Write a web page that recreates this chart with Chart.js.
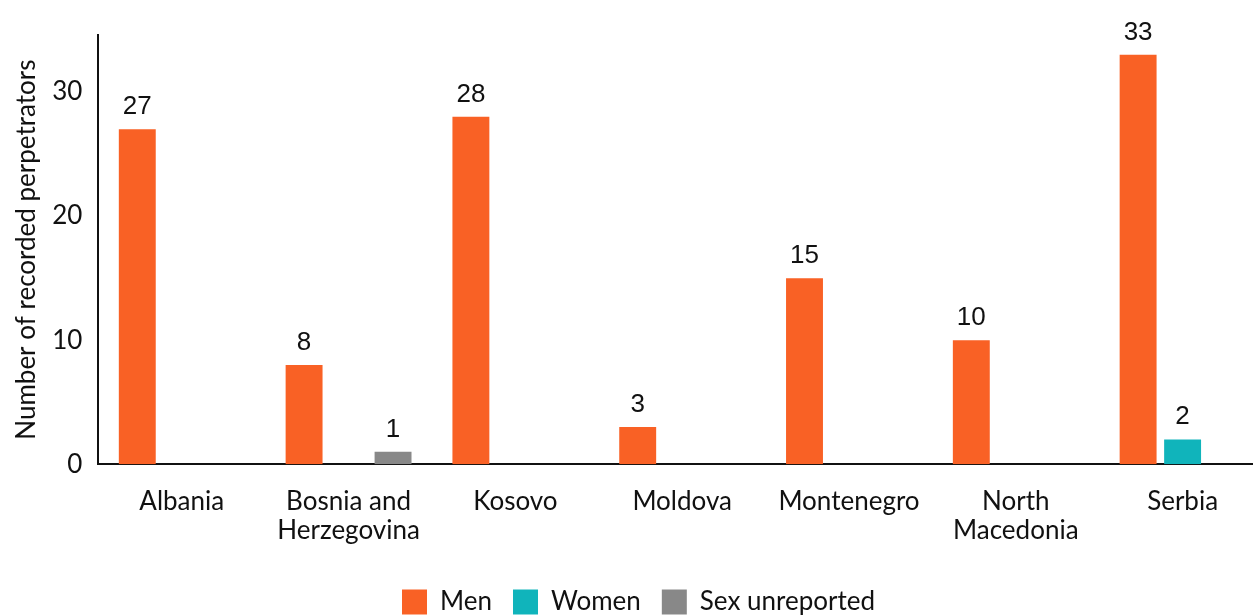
<!DOCTYPE html>
<html>
<head>
<meta charset="utf-8">
<script src="https://cdn.jsdelivr.net/npm/chart.js@4.4.1/dist/chart.umd.min.js"></script>
<style>
  html, body { margin: 0; padding: 0; background: #fff; overflow: hidden; }
  #wrap { width: 1253px; height: 616px; overflow: hidden; }
</style>
</head>
<body>
<div id="wrap"><canvas id="c" width="1270" height="625"></canvas></div>
<script>
const categories = ["Albania", ["Bosnia and", "Herzegovina"], "Kosovo", "Moldova", "Montenegro", ["North", "Macedonia"], "Serbia"];
const men = [27, 8, 28, 3, 15, 10, 33];
const women = [0, 0, 0, 0, 0, 0, 2];
const unreported = [0, 1, 0, 0, 0, 0, 0];
const seriesNames = ["Men", "Women", "Sex unreported"];
const seriesColors = ["#F96125", "#10B4BB", "#888888"];
const yTicks = [0, 10, 20, 30];
const yTitle = "Number of recorded perpetrators";

const valueLabels = {
  id: 'valueLabels',
  afterDatasetsDraw(chart) {
    const ctx = chart.ctx;
    ctx.save();
    ctx.font = '26px "Liberation Sans", Arial, sans-serif';
    ctx.fillStyle = '#111';
    ctx.textAlign = 'center';
    ctx.textBaseline = 'alphabetic';
    chart.data.datasets.forEach((ds, i) => {
      const meta = chart.getDatasetMeta(i);
      meta.data.forEach((bar, j) => {
        const v = ds.data[j];
        if (!v) return;
        ctx.fillText(String(v), bar.x, bar.y - 15);
      });
    });
    ctx.restore();
  }
};

new Chart(document.getElementById('c'), {
  type: 'bar',
  data: {
    labels: categories,
    datasets: [
      { label: seriesNames[0], data: men, backgroundColor: seriesColors[0] },
      { label: seriesNames[1], data: women, backgroundColor: seriesColors[1] },
      { label: seriesNames[2], data: unreported, backgroundColor: seriesColors[2] }
    ]
  },
  options: {
    responsive: false,
    animation: false,
    layout: { padding: { top: 35, right: 4, left: 11, bottom: 0 } },
    datasets: { bar: { categoryPercentage: 0.8, barPercentage: 0.83 } },
    scales: {
      x: {
        grid: { display: false, drawTicks: false },
        border: { display: true, color: '#111', width: 2 },
        ticks: { color: '#111', font: { family: 'Lato', size: 26, lineHeight: 1.15 }, padding: 22, maxRotation: 0, autoSkip: false }
      },
      y: {
        min: 0, max: 34.6,
        afterBuildTicks(axis) { axis.ticks = yTicks.map(v => ({ value: v })); },
        grid: { display: false, drawTicks: false },
        border: { display: true, color: '#111', width: 2 },
        ticks: { color: '#111', font: { family: 'Lato', size: 26 }, padding: 16 },
        title: { display: true, text: yTitle, color: '#111', font: { family: 'Lato', size: 26 }, padding: { top: 0, bottom: -6 } }
      }
    },
    plugins: {
      legend: {
        position: 'bottom',
        labels: { color: '#111', font: { family: 'Lato', size: 26 }, boxWidth: 25, boxHeight: 25, padding: 21 }
      },
      tooltip: { enabled: false }
    }
  },
  plugins: [valueLabels]
});
</script>
</body>
</html>
